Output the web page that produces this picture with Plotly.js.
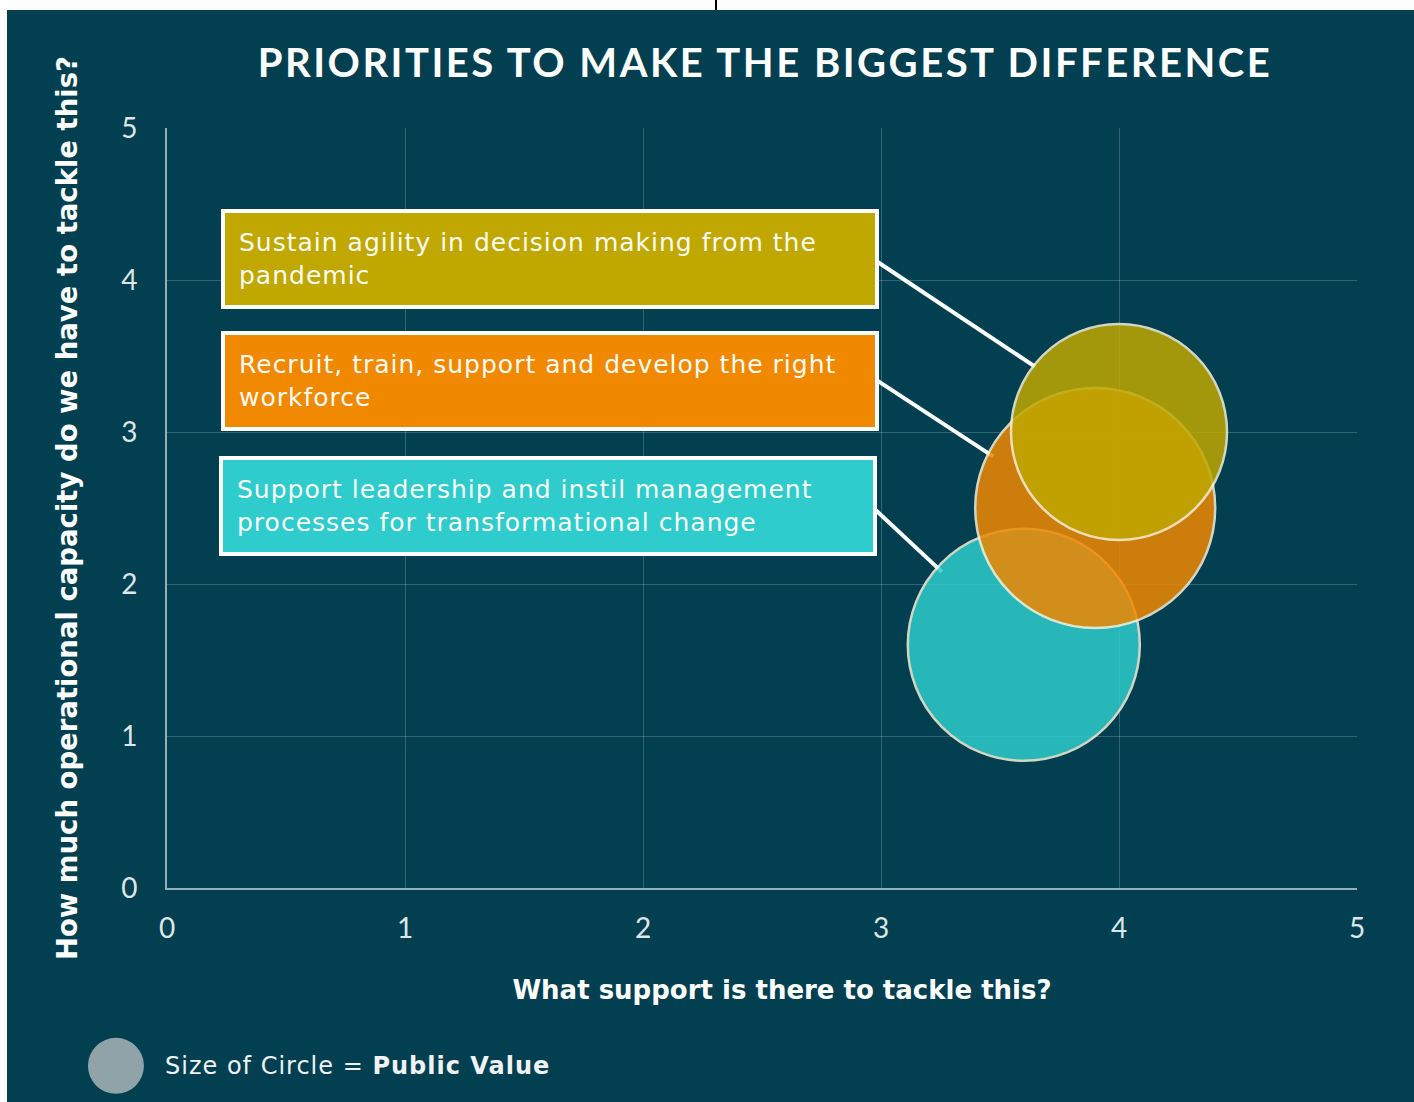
<!DOCTYPE html>
<html>
<head>
<meta charset="utf-8">
<script src="https://cdn.plot.ly/plotly-3.0.1.min.js"></script>
<style>
  html, body { margin: 0; padding: 0; background: #ffffff; width: 1414px; height: 1102px; overflow: hidden; }
  #chart { position: absolute; left: 7px; top: 10px; width: 1407px; height: 1092px; }
  #tick { position: absolute; left: 715px; top: 0; width: 2px; height: 10px; background: #000; }
  .gtitle { letter-spacing: 2.5px; }
  .annotation-text { letter-spacing: 1px; }
  .xtitle { transform: translate(20px, 0px); }
</style>
</head>
<body>
<div id="tick"></div>
<div id="chart"></div>
<script>
// ---- data ----
const priorities = [
  "Support leadership and instil management<br>processes for transformational change",
  "Recruit, train, support and develop the right<br>workforce",
  "Sustain agility in decision making from the<br>pandemic"
];
const support = [3.6, 3.9, 4.0];        // x: What support is there to tackle this?
const capacity = [1.6, 2.5, 3.0];       // y: operational capacity
const publicValue = [2.9, 3.0, 2.7];    // bubble size
const colors = ["#2ecccc", "#f08800", "#c0a800"];
const tickVals = [0, 1, 2, 3, 4, 5];
const tickText = ["0", "1", "2", "3", "4", "5"];

// label box placement (top-left corner, data units) and connector lines
const labelX = [0.22, 0.227, 0.227];
const labelY = [2.845, 3.665, 4.47];
const connFrom = [[2.975, 2.49], [2.983, 3.34], [2.975, 4.13]];
const connTo = [[3.256, 2.08], [3.471, 2.84], [3.647, 3.43]];

const FONT = "Lato, 'Open Sans', sans-serif";
const WIDE = "'DejaVu Sans', 'Open Sans', sans-serif";

const trace = {
  type: "scatter",
  mode: "markers",
  x: support,
  y: capacity,
  text: priorities,
  hoverinfo: "text",
  marker: {
    size: publicValue,
    sizemode: "diameter",
    sizeref: 1 / 80,
    color: colors,
    opacity: 0.85,
    line: { color: "rgba(248,240,215,1)", width: 2.5 }
  },
  showlegend: false
};

const annotations = priorities.map((p, i) => ({
  xref: "x", yref: "y",
  x: labelX[i], y: labelY[i],
  xanchor: "left", yanchor: "top",
  text: p,
  showarrow: false,
  align: "left",
  valign: "middle",
  width: 622, height: 64,
  borderpad: 14,
  bgcolor: colors[i],
  bordercolor: "#ffffff",
  borderwidth: 4,
  font: { family: WIDE, size: 25, color: "#fbfbf5" }
}));

annotations.push({
  xref: "paper", yref: "paper",
  x: -0.0034, y: -0.234,
  xanchor: "left", yanchor: "middle",
  showarrow: false,
  text: "Size of Circle = <b>Public Value</b>",
  font: { family: WIDE, size: 24, color: "#f0f3f3" }
});

const shapes = connFrom.map((f, i) => ({
  type: "line", xref: "x", yref: "y",
  x0: f[0], y0: f[1], x1: connTo[i][0], y1: connTo[i][1],
  line: { color: "#ffffff", width: 4 },
  layer: "below"
}));

shapes.push({
  type: "circle",
  xref: "paper", yref: "paper",
  xsizemode: "pixel", ysizemode: "pixel",
  xanchor: -0.0429, yanchor: -0.234,
  x0: -28, x1: 28, y0: -28, y1: 28,
  fillcolor: "#8fa3a8",
  line: { width: 0 }
});

const axisCommon = {
  range: [0, 5],
  tickvals: tickVals,
  ticktext: tickText,
  showgrid: true,
  gridcolor: "rgba(255,255,255,0.2)",
  gridwidth: 1,
  zeroline: false,
  showline: true,
  linecolor: "rgba(200,215,220,0.75)",
  linewidth: 2,
  ticks: "",
  tickfont: { family: FONT, size: 28, color: "#dfe6e8" },
  fixedrange: true
};

const layout = {
  width: 1407, height: 1092,
  paper_bgcolor: "#013f51",
  plot_bgcolor: "#013f51",
  margin: { l: 160, r: 57, t: 118, b: 214 },
  title: {
    text: "<b>PRIORITIES TO MAKE THE BIGGEST DIFFERENCE</b>",
    xref: "container", yref: "container",
    x: 0.5387, y: 0.9515, xanchor: "center", yanchor: "middle",
    font: { family: FONT, size: 40, color: "#ffffff" }
  },
  xaxis: Object.assign({}, axisCommon, {
    ticklabelstandoff: 14,
    title: {
      text: "<b>What support is there to tackle this?</b>",
      font: { family: WIDE, size: 26, color: "#ffffff" },
      standoff: 38
    }
  }),
  yaxis: Object.assign({}, axisCommon, {
    ticklabelstandoff: 22,
    title: {
      text: "<b>How much operational capacity do we have to tackle this?</b>",
      font: { family: WIDE, size: 27.5, color: "#ffffff" },
      standoff: 36
    }
  }),
  annotations: annotations,
  shapes: shapes,
  hovermode: "closest"
};

Plotly.newPlot("chart", [trace], layout, { displayModeBar: false, staticPlot: false });
</script>
</body>
</html>
